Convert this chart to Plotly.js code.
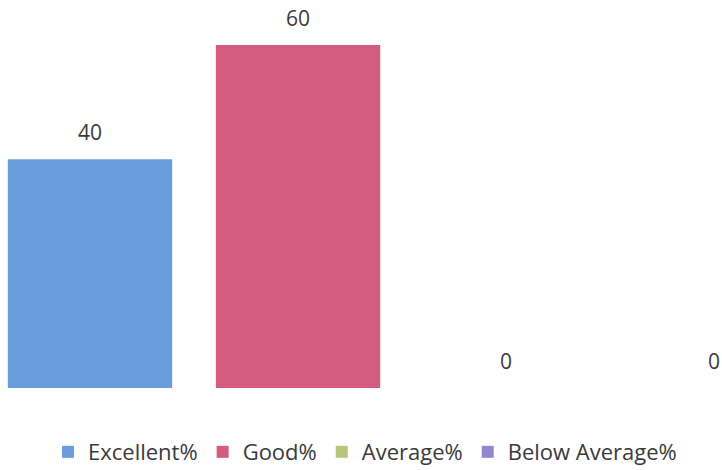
<!DOCTYPE html>
<html>
<head>
<meta charset="utf-8">
<script src="https://cdn.plot.ly/plotly-3.0.1.min.js"></script>
<style>html,body{margin:0;padding:0;background:#fff;}#chart{width:722px;height:470px;}</style>
</head>
<body>
<div id="chart"></div>
<script>
var categories = ['Excellent%', 'Good%', 'Average%', 'Below Average%'];
var values = [40, 60, 0, 0];
var colors = ['#6a9ddc', '#d45c80', '#b4c77b', '#9187d0'];

var traces = categories.map(function (name, i) {
  return {
    type: 'bar',
    name: name,
    x: [i],
    y: [values[i]],
    width: 0.79,
    marker: { color: colors[i] },
    hoverinfo: 'none'
  };
});

var annotations = categories.map(function (name, i) {
  return {
    x: i, y: values[i], xref: 'x', yref: 'y',
    text: String(values[i]),
    showarrow: false, yanchor: 'bottom',
    yshift: 11,
    font: { family: 'Open Sans, sans-serif', size: 21, color: '#3a3a3a' }
  };
});

var layout = {
  width: 722, height: 470,
  margin: { l: 0, r: 0, t: 0, b: 82, autoexpand: false },
  paper_bgcolor: '#ffffff', plot_bgcolor: '#ffffff',
  barmode: 'overlay',
  showlegend: true,
  legend: {
    orientation: 'h', x: 0.0665, xanchor: 'left', y: -0.165, yanchor: 'middle',
    font: { family: 'Open Sans, sans-serif', size: 22, color: '#3a3a3a' },
    itemwidth: 30, traceorder: 'normal'
  },
  xaxis: { range: [-0.4327, 3.038], showgrid: false, zeroline: false, showticklabels: false, showline: false, fixedrange: true },
  yaxis: { range: [0, 67.87], showgrid: false, zeroline: false, showticklabels: false, showline: false, fixedrange: true },
  annotations: annotations
};

Plotly.newPlot('chart', traces, layout, { displayModeBar: false, staticPlot: true });
</script>
</body>
</html>
